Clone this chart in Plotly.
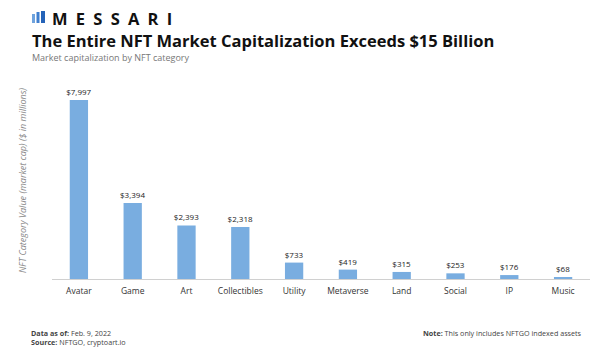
import plotly.graph_objects as go

categories = ["Avatar", "Game", "Art", "Collectibles", "Utility", "Metaverse", "Land", "Social", "IP", "Music"]
values = [7997, 3394, 2393, 2318, 733, 419, 315, 253, 176, 68]
labels = ["$" + format(v, ",") for v in values]

W, H = 603, 363
FONT = "Open Sans"
BAR = "#79ade0"

fig = go.Figure(go.Bar(
    x=categories, y=values, text=labels, textposition="outside",
    textfont=dict(family=FONT, size=8, color="#222"),
    constraintext="none",
    marker=dict(color=BAR, line=dict(width=0)),
    width=0.34, cliponaxis=False,
))

fig.update_layout(
    width=W, height=H,
    margin=dict(l=52, r=13, t=80, b=84),
    plot_bgcolor="white", paper_bgcolor="white",
    showlegend=False,
    font=dict(family=FONT, color="#333"),
    xaxis=dict(showline=True, linecolor="#d0d0d0", linewidth=1, ticks="", ticklabelstandoff=4,
               tickfont=dict(family=FONT, size=8.5, color="#333"), showgrid=False),
    yaxis=dict(range=[0, 8890], visible=False, showgrid=False),
)

pl, pr, pt, pb = 52, W - 13, 80, H - 84
def px(x): return (x - pl) / (pr - pl)
def py(y): return (pb - y) / (pb - pt)

ann = []
def P(x, y, text, size, color="#333", xanchor="left", family=FONT):
    ann.append(dict(xref="paper", yref="paper", x=px(x), y=py(y), text=text, showarrow=False,
                    xanchor=xanchor, yanchor="middle",
                    font=dict(family=family, size=size, color=color)))

P(50, 18, "<b>" + "\u2002".join("MESSARI") + "</b>", 16.5, "#111")
P(30, 40, "<b>The Entire NFT Market Capitalization Exceeds $15 Billion</b>", 16.5, "#111")
P(30, 57, "Market capitalization by NFT category", 9, "#777")
ann.append(dict(xref="paper", yref="paper", x=px(22), y=py(180),
                text="<i>NFT Category Value (market cap) ($ in millions)</i>",
                showarrow=False, textangle=-90, xanchor="center", yanchor="middle",
                font=dict(family=FONT, size=9, color="#888")))
P(29, 333, "<b>Data as of:</b> Feb. 9, 2022", 7.2, "#444")
P(29, 342, "<b>Source:</b> NFTGO, cryptoart.io", 7.2, "#444")
P(584, 333, "<b>Note:</b> This only includes NFTGO indexed assets", 7.2, "#444", xanchor="right")
fig.update_layout(annotations=ann)

shapes = []
for x0, x1, y0, y1, c in [(32, 35, 14, 23, "#6fa3dd"), (36.5, 39.5, 12, 23, "#3f7fcf"), (41, 45, 11, 23, "#2563b8")]:
    shapes.append(dict(type="rect", xref="paper", yref="paper", x0=px(x0), x1=px(x1), y0=py(y1), y1=py(y0),
                       fillcolor=c, line=dict(width=0)))
fig.update_layout(shapes=shapes)

fig.write_html("out.html", config={"displayModeBar": False},
               post_script="document.body.style.margin='0';document.body.style.padding='0';")
